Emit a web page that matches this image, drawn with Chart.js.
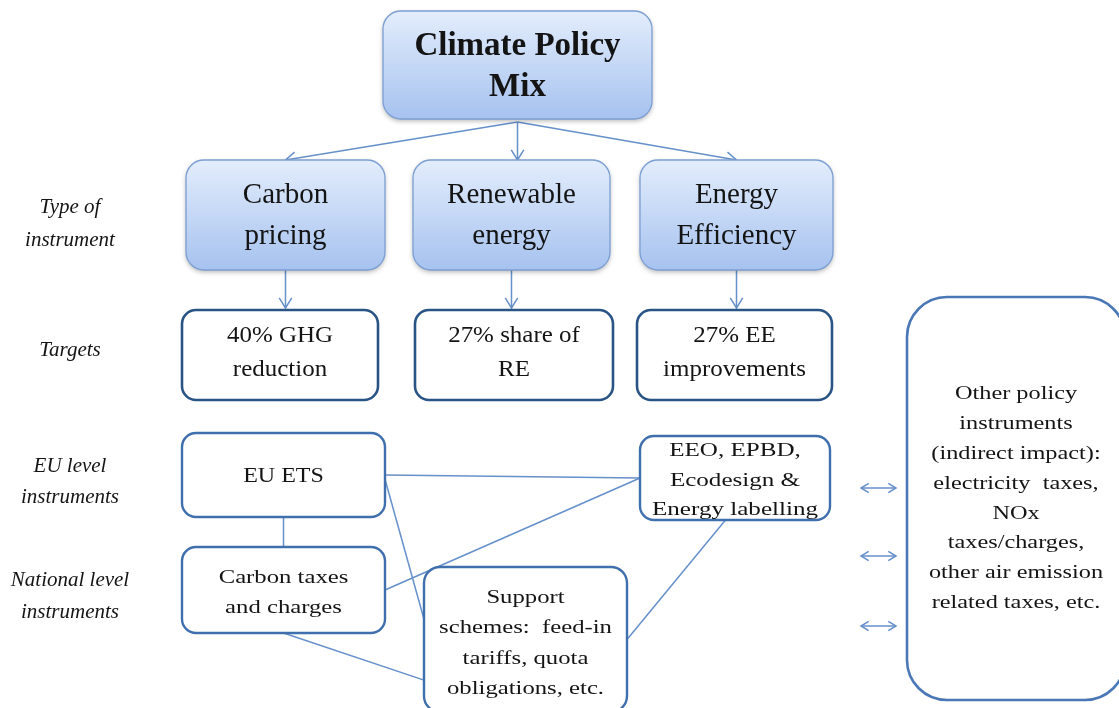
<!DOCTYPE html>
<html>
<head>
  <meta charset="UTF-8">
  <title>Climate Policy Mix</title>
  <script src="https://cdn.jsdelivr.net/npm/chart.js"></script>
  <style>
    body { margin: 0; background: #fff; }
    #wrap { width: 1119px; height: 708px; }
  </style>
</head>
<body>
  <div id="wrap"><canvas id="diagram" width="1119" height="708"></canvas></div>

  <script>
    // --- text content ---
    const titleLines = ['Climate Policy', 'Mix'];
    const instrumentTypes = [['Carbon', 'pricing'], ['Renewable', 'energy'], ['Energy', 'Efficiency']];
    const targetLabels = [['40% GHG', 'reduction'], ['27% share of', 'RE'], ['27% EE', 'improvements']];
    const euInstruments = [['EU ETS'], ['EEO, EPBD,', 'Ecodesign &', 'Energy labelling']];
    const nationalInstruments = [['Carbon taxes', 'and charges'], ['Support', 'schemes:  feed-in', 'tariffs, quota', 'obligations, etc.']];
    const otherInstruments = ['Other policy', 'instruments', '(indirect impact):', 'electricity  taxes,', 'NOx', 'taxes/charges,', 'other air emission', 'related taxes, etc.'];
    const rowLabels = [['Type of', 'instrument'], ['Targets'], ['EU level', 'instruments'], ['National level', 'instruments']];

    // --- layout (diagram units, same as pixels) ---
    const boxTitle = [383, 11, 652, 119];
    const boxTypes = [[186, 160, 385, 270], [413, 160, 610, 270], [640, 160, 833, 270]];
    const boxTargets = [[182, 310, 378, 400], [415, 310, 613, 400], [637, 310, 832, 400]];
    const boxEU = [[182, 433, 385, 517], [640, 436, 830, 520]];
    const boxNational = [[182, 547, 385, 633], [424, 567, 627, 712]];
    const boxOther = [907, 297, 1125, 700];
    const rowLabelY = [[207, 240], [350], [466, 497], [580, 612]];
    const sideArrowY = [488, 556, 626];

    const lineBlue = '#6690ca';
    const serif = '"Liberation Serif", "DejaVu Serif", serif';

    function at(b, side, f) {
      if (f === undefined) f = 0.5;
      const [x0, y0, x1, y1] = b;
      if (side === 't') return { x: x0 + (x1 - x0) * f, y: y0 };
      if (side === 'b') return { x: x0 + (x1 - x0) * f, y: y1 };
      if (side === 'l') return { x: x0, y: y0 + (y1 - y0) * f };
      return { x: x1, y: y0 + (y1 - y0) * f };
    }

    // arrows (with heads at the end point)
    const arrows = [];
    const topFoot = at(boxTitle, 'b');
    boxTypes.forEach((b, i) => {
      const end = at(b, 't');
      if (i === 1) end.x = topFoot.x;
      arrows.push([{ x: topFoot.x, y: topFoot.y + 3 }, end]);
    });
    boxTypes.forEach((b, i) => {
      const s = at(b, 'b');
      arrows.push([s, { x: s.x, y: boxTargets[i][1] - 2 }]);
    });

    // plain connectors between instrument boxes
    const connectors = [
      [at(boxEU[0], 'r', 0.5), at(boxEU[1], 'l', 0.5)],
      [at(boxEU[0], 'r', 0.55), at(boxNational[1], 'l', 0.36)],
      [at(boxNational[0], 'r', 0.5), at(boxEU[1], 'l', 0.5)],
      [at(boxNational[0], 'b', 0.5), at(boxNational[1], 'l', 0.78)],
      [at(boxEU[1], 'b', 0.45), at(boxNational[1], 'r', 0.5)],
      [at(boxEU[0], 'b', 0.5), at(boxNational[0], 't', 0.5)]
    ];

    // double arrows towards "other" box
    const sideArrows = sideArrowY.map(y => [{ x: 861, y: y }, { x: 896, y: y }]);

    const datasets = [];
    connectors.concat(arrows).concat(sideArrows).forEach(seg => {
      datasets.push({
        data: seg,
        showLine: true,
        borderColor: lineBlue,
        borderWidth: 1.5,
        pointRadius: 0,
        fill: false
      });
    });

    function roundRect(ctx, x, y, w, h, r) {
      ctx.beginPath();
      ctx.moveTo(x + r, y);
      ctx.arcTo(x + w, y, x + w, y + h, r);
      ctx.arcTo(x + w, y + h, x, y + h, r);
      ctx.arcTo(x, y + h, x, y, r);
      ctx.arcTo(x, y, x + w, y, r);
      ctx.closePath();
    }

    function head(ctx, from, to, size) {
      const a = Math.atan2(to.y - from.y, to.x - from.x);
      ctx.beginPath();
      ctx.moveTo(to.x - size * Math.cos(a - 0.55), to.y - size * Math.sin(a - 0.55));
      ctx.lineTo(to.x, to.y);
      ctx.lineTo(to.x - size * Math.cos(a + 0.55), to.y - size * Math.sin(a + 0.55));
      ctx.stroke();
    }

    const diagramPlugin = {
      id: 'diagram',
      afterDatasetsDraw(chart) {
        const ctx = chart.ctx;
        const xs = chart.scales.x, ys = chart.scales.y;
        const px = p => ({ x: xs.getPixelForValue(p.x), y: ys.getPixelForValue(p.y) });
        const rect = b => {
          const a = px({ x: b[0], y: b[1] }), c = px({ x: b[2], y: b[3] });
          return { x: a.x, y: a.y, w: c.x - a.x, h: c.y - a.y };
        };

        // lines of text, stretched horizontally by sx (the source font is wide)
        function textBlock(lines, cx, cy, font, gap, sx) {
          ctx.save();
          ctx.font = font;
          ctx.fillStyle = '#141414';
          ctx.textAlign = 'center';
          ctx.textBaseline = 'middle';
          const start = cy - (lines.length - 1) * gap / 2;
          lines.forEach((t, i) => {
            ctx.save();
            ctx.translate(cx, start + i * gap);
            ctx.scale(sx || 1, 1);
            ctx.fillText(t, 0, 0);
            ctx.restore();
          });
          ctx.restore();
        }

        function gradBox(b, r, lines, font, gap, dy) {
          const q = rect(b);
          ctx.save();
          ctx.shadowColor = 'rgba(0,0,0,0.3)';
          ctx.shadowBlur = 5;
          ctx.shadowOffsetY = 2;
          const g = ctx.createLinearGradient(0, q.y, 0, q.y + q.h);
          g.addColorStop(0, '#e3edfc');
          g.addColorStop(1, '#a6c2ef');
          roundRect(ctx, q.x, q.y, q.w, q.h, r);
          ctx.fillStyle = g;
          ctx.fill();
          ctx.restore();
          roundRect(ctx, q.x, q.y, q.w, q.h, r);
          ctx.strokeStyle = '#7c9fd3';
          ctx.lineWidth = 1.3;
          ctx.stroke();
          textBlock(lines, q.x + q.w / 2, q.y + q.h / 2 + (dy || 0), font, gap, 1);
        }

        function plainBox(b, r, color, width) {
          const q = rect(b);
          roundRect(ctx, q.x, q.y, q.w, q.h, r);
          ctx.fillStyle = '#fff';
          ctx.fill();
          ctx.strokeStyle = color;
          ctx.lineWidth = width;
          ctx.stroke();
          return q;
        }

        // arrow heads
        ctx.save();
        ctx.strokeStyle = lineBlue;
        ctx.lineWidth = 1.5;
        arrows.forEach(([s, e]) => head(ctx, px(s), px(e), 12));
        sideArrows.forEach(([s, e]) => {
          head(ctx, px(s), px(e), 9);
          head(ctx, px(e), px(s), 9);
        });
        ctx.restore();

        // boxes
        gradBox(boxTitle, 18, titleLines, 'bold 33px ' + serif, 41, 2);
        boxTypes.forEach((b, i) => gradBox(b, 18, instrumentTypes[i], '29px ' + serif, 41, 1));
        boxTargets.forEach((b, i) => {
          const q = plainBox(b, 14, '#2b5486', 2.6);
          textBlock(targetLabels[i], q.x + q.w / 2, q.y + q.h / 2 - 2, '24px ' + serif, 34, 1.04);
        });
        let q = plainBox(boxEU[0], 14, '#3f6fad', 2.4);
        textBlock(euInstruments[0], q.x + q.w / 2, q.y + q.h / 2 + 2, '20px ' + serif, 0, 1.2);
        q = plainBox(boxEU[1], 14, '#3f6fad', 2.4);
        textBlock(euInstruments[1], q.x + q.w / 2, q.y + q.h / 2 + 3, '19px ' + serif, 29.5, 1.32);
        q = plainBox(boxNational[0], 14, '#3f6fad', 2.4);
        textBlock(nationalInstruments[0], q.x + q.w / 2, q.y + q.h / 2 + 3, '19px ' + serif, 30, 1.3);
        q = plainBox(boxNational[1], 16, '#3f6fad', 2.4);
        textBlock(nationalInstruments[1], q.x + q.w / 2, q.y + q.h / 2 + 4, '19px ' + serif, 30.5, 1.3);
        q = plainBox(boxOther, 40, '#4a78b6', 2.6);
        textBlock(otherInstruments, 1016, ys.getPixelForValue(499), '18px ' + serif, 29.8, 1.35);

        // row labels
        rowLabels.forEach((lines, i) => {
          ctx.font = 'italic 21px ' + serif;
          ctx.fillStyle = '#141414';
          ctx.textAlign = 'center';
          ctx.textBaseline = 'middle';
          lines.forEach((t, j) => ctx.fillText(t, xs.getPixelForValue(70), ys.getPixelForValue(rowLabelY[i][j])));
        });
      }
    };

    new Chart(document.getElementById('diagram').getContext('2d'), {
      type: 'scatter',
      data: { datasets: datasets },
      options: {
        responsive: false,
        animation: false,
        layout: { padding: 0 },
        plugins: { legend: { display: false }, tooltip: { enabled: false } },
        scales: {
          x: { type: 'linear', min: 0, max: 1119, display: false },
          y: { type: 'linear', min: 0, max: 708, reverse: true, display: false }
        }
      },
      plugins: [diagramPlugin]
    });
  </script>
</body>
</html>
